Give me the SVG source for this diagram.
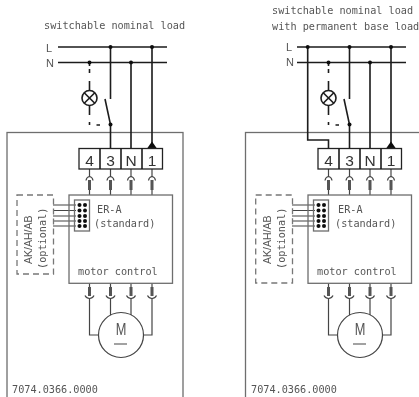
<svg xmlns="http://www.w3.org/2000/svg" width="419" height="397" viewBox="0 0 419 397">
<style>
.w{fill:none;stroke:#1c1c1c;stroke-width:1.6}
.g{fill:none;stroke:#6e6e6e;stroke-width:1.3}
.k{fill:none;stroke:#444;stroke-width:1.2}
.dash{fill:none;stroke:#777;stroke-width:1.3;stroke-dasharray:6 4}
.d{fill:#111}
.m{font-family:"DejaVu Sans Mono","Liberation Mono",monospace;font-size:10.2px;fill:#555}
.s{font-family:"Liberation Sans",Arial,sans-serif;fill:#555}
.t{font-size:15.500px;text-anchor:middle;fill:#333}
</style>
<defs>
<filter id="b" x="-2%" y="-2%" width="104%" height="104%"><feGaussianBlur stdDeviation="0.4"/></filter>
<g id="plugT"><path class="k" d="M0 0V8"/><path class="k" d="M-3.500 11.500Q-3 8 0 7.500Q3 8 3.500 11.500"/><path d="M0 11V21" stroke="#555" stroke-width="3"/><path class="k" d="M0 21V26"/></g>
<g id="plugB"><path class="k" d="M0 0V4"/><path d="M0 4V13" stroke="#555" stroke-width="3"/><path class="k" d="M-4.500 12.500Q-3 15.500 0 15.500Q3 15.500 4.500 12.500"/></g>
<g id="pins"><circle cx="0" cy="0" r="2"/><circle cx="5.500" cy="0" r="2"/></g>
</defs>
<g filter="url(#b)">
<g id="panel-left">
<rect id="housing-left" class="g" x="7" y="132.500" width="176" height="270"/>
<g id="wires-left">
<path class="w" d="M58 47H167M58 62.500H167"/>
<path class="w" d="M110.500 47V99M105 99L110.500 124.500V148M131 62.500V148M152 47V148"/>
<path class="w" d="M89.500 62.500V66M89.500 69V73M89.500 81V91M89.500 106V115M89.500 122V125M96.500 125H100"/>
<circle class="d" cx="110.500" cy="47" r="2"/><circle class="d" cx="152" cy="47" r="2"/>
<circle class="d" cx="89.500" cy="62.500" r="2"/><circle class="d" cx="131" cy="62.500" r="2"/>
<circle class="d" cx="110.500" cy="124.500" r="2"/>
<path class="d" d="M147 148.500L152 141.500L157 148.500Z"/>
<g id="plugs-top-left"><use href="#plugT" x="89.500" y="169"/><use href="#plugT" x="110.500" y="169"/><use href="#plugT" x="131" y="169"/><use href="#plugT" x="152" y="169"/></g>
<g id="plugs-bottom-left"><use href="#plugB" x="89.500" y="283"/><use href="#plugB" x="110.500" y="283"/><use href="#plugB" x="131" y="283"/><use href="#plugB" x="152" y="283"/></g>
<path class="k" d="M89.500 298V335H99M110.500 298V315M131 298V315M152 298V335H143"/>
<path class="k" d="M53 205H76M53 210.500H76M53 216H76M53 221H76M53 226H76"/>
</g>
<g id="labels-left"><text class="s" x="46" y="52" font-size="11">L</text><text class="s" x="46" y="67" font-size="11">N</text><text class="m" x="44" y="29">switchable nominal load</text></g>
<g id="lamp-left"><circle class="w" cx="89.500" cy="98" r="7.500"/><path class="w" d="M84.200 92.700L94.800 103.300M94.800 92.700L84.200 103.300"/></g>
<g id="terminals-left"><rect x="79" y="148.500" width="83.500" height="20.500" fill="#fff" stroke="#222" stroke-width="1.300"/><path class="w" d="M100 148.500V169M121 148.500V169M142 148.500V169"/>
<text class="s t" x="89.500" y="165.500">4</text><text class="s t" x="110.500" y="165.500">3</text><text class="s t" x="131" y="165.500">N</text><text class="s t" x="152" y="165.500">1</text></g>
<g id="era-left"><rect class="g" x="69" y="195" width="103.500" height="88.300"/><rect class="g" x="74.500" y="200" width="15" height="31"/>
<g class="d"><use href="#pins" x="79.500" y="205"/><use href="#pins" x="79.500" y="210.500"/><use href="#pins" x="79.500" y="216"/><use href="#pins" x="79.500" y="221"/><use href="#pins" x="79.500" y="226"/></g>
<text class="m" x="97" y="213">ER-A</text><text class="m" x="94" y="226.500">(standard)</text><text class="m" x="78" y="275">motor control</text></g>
<g id="option-left"><rect class="dash" x="17" y="195" width="36.500" height="79"/><text class="s" transform="translate(31.500 264) rotate(-90)" font-size="10.500">AK/AH/AB</text><text class="m" transform="translate(46 269) rotate(-90)">(optional)</text></g>
<g id="motor-left"><circle class="k" cx="121" cy="335" r="22.500"/><text class="s" transform="translate(121 335) scale(.8 1)" font-size="16" text-anchor="middle">M</text><path class="g" d="M114 344H127"/></g>
<text id="code-left" class="m" x="12" y="393">7074.0366.0000</text>
</g>
<g id="panel-right" transform="translate(239 0)">
<rect id="housing-right" class="g" x="6.500" y="132.500" width="190" height="270" stroke-width="1.600"/>
<g id="wires-right">
<path class="w" d="M58 47H167M58 62.500H167"/>
<path class="w" d="M68.700 47V140H89.500V148M110.500 47V99M105 99L110.500 124.500V148M131 62.500V148M152 47V148"/>
<path class="w" d="M89.500 62.500V66M89.500 69V73M89.500 81V91M89.500 106V115M89.500 122V125M96.500 125H100"/>
<circle class="d" cx="68.700" cy="47" r="2"/><circle class="d" cx="110.500" cy="47" r="2"/><circle class="d" cx="152" cy="47" r="2"/>
<circle class="d" cx="89.500" cy="62.500" r="2"/><circle class="d" cx="131" cy="62.500" r="2"/>
<circle class="d" cx="110.500" cy="124.500" r="2"/>
<path class="d" d="M147 148.500L152 141.500L157 148.500Z"/>
<g id="plugs-top-right"><use href="#plugT" x="89.500" y="169"/><use href="#plugT" x="110.500" y="169"/><use href="#plugT" x="131" y="169"/><use href="#plugT" x="152" y="169"/></g>
<g id="plugs-bottom-right"><use href="#plugB" x="89.500" y="283"/><use href="#plugB" x="110.500" y="283"/><use href="#plugB" x="131" y="283"/><use href="#plugB" x="152" y="283"/></g>
<path class="k" d="M89.500 298V335H99M110.500 298V315M131 298V315M152 298V335H143"/>
<path class="k" d="M53 205H76M53 210.500H76M53 216H76M53 221H76M53 226H76"/>
</g>
<g id="labels-right"><text class="s" x="47" y="51" font-size="11" fill="#888">L</text><text class="s" x="47" y="66" font-size="11">N</text><text class="m" x="33" y="14">switchable nominal load</text><text class="m" x="33" y="30">with permanent base load</text></g>
<g id="lamp-right"><circle class="w" cx="89.500" cy="98" r="7.500"/><path class="w" d="M84.200 92.700L94.800 103.300M94.800 92.700L84.200 103.300"/></g>
<g id="terminals-right"><rect x="79" y="148.500" width="83.500" height="20.500" fill="#fff" stroke="#222" stroke-width="1.300"/><path class="w" d="M100 148.500V169M121 148.500V169M142 148.500V169"/>
<text class="s t" x="89.500" y="165.500">4</text><text class="s t" x="110.500" y="165.500">3</text><text class="s t" x="131" y="165.500">N</text><text class="s t" x="152" y="165.500">1</text></g>
<g id="era-right"><rect class="g" x="69" y="195" width="103.500" height="88.300"/><rect class="g" x="74.500" y="200" width="15" height="31"/>
<g class="d"><use href="#pins" x="79.500" y="205"/><use href="#pins" x="79.500" y="210.500"/><use href="#pins" x="79.500" y="216"/><use href="#pins" x="79.500" y="221"/><use href="#pins" x="79.500" y="226"/></g>
<text class="m" x="99" y="213">ER-A</text><text class="m" x="96" y="226.500">(standard)</text><text class="m" x="78" y="275">motor control</text></g>
<g id="option-right"><rect class="dash" x="16.700" y="195" width="36.800" height="88"/><text class="s" transform="translate(31.500 264) rotate(-90)" font-size="10.500">AK/AH/AB</text><text class="m" transform="translate(46 269) rotate(-90)">(optional)</text></g>
<g id="motor-right"><circle class="k" cx="121" cy="335" r="22.500"/><text class="s" transform="translate(121 335) scale(.8 1)" font-size="16" text-anchor="middle">M</text><path class="g" d="M114 344H127"/></g>
<text id="code-right" class="m" x="12" y="393">7074.0366.0000</text>
</g>
</g>
</svg>
